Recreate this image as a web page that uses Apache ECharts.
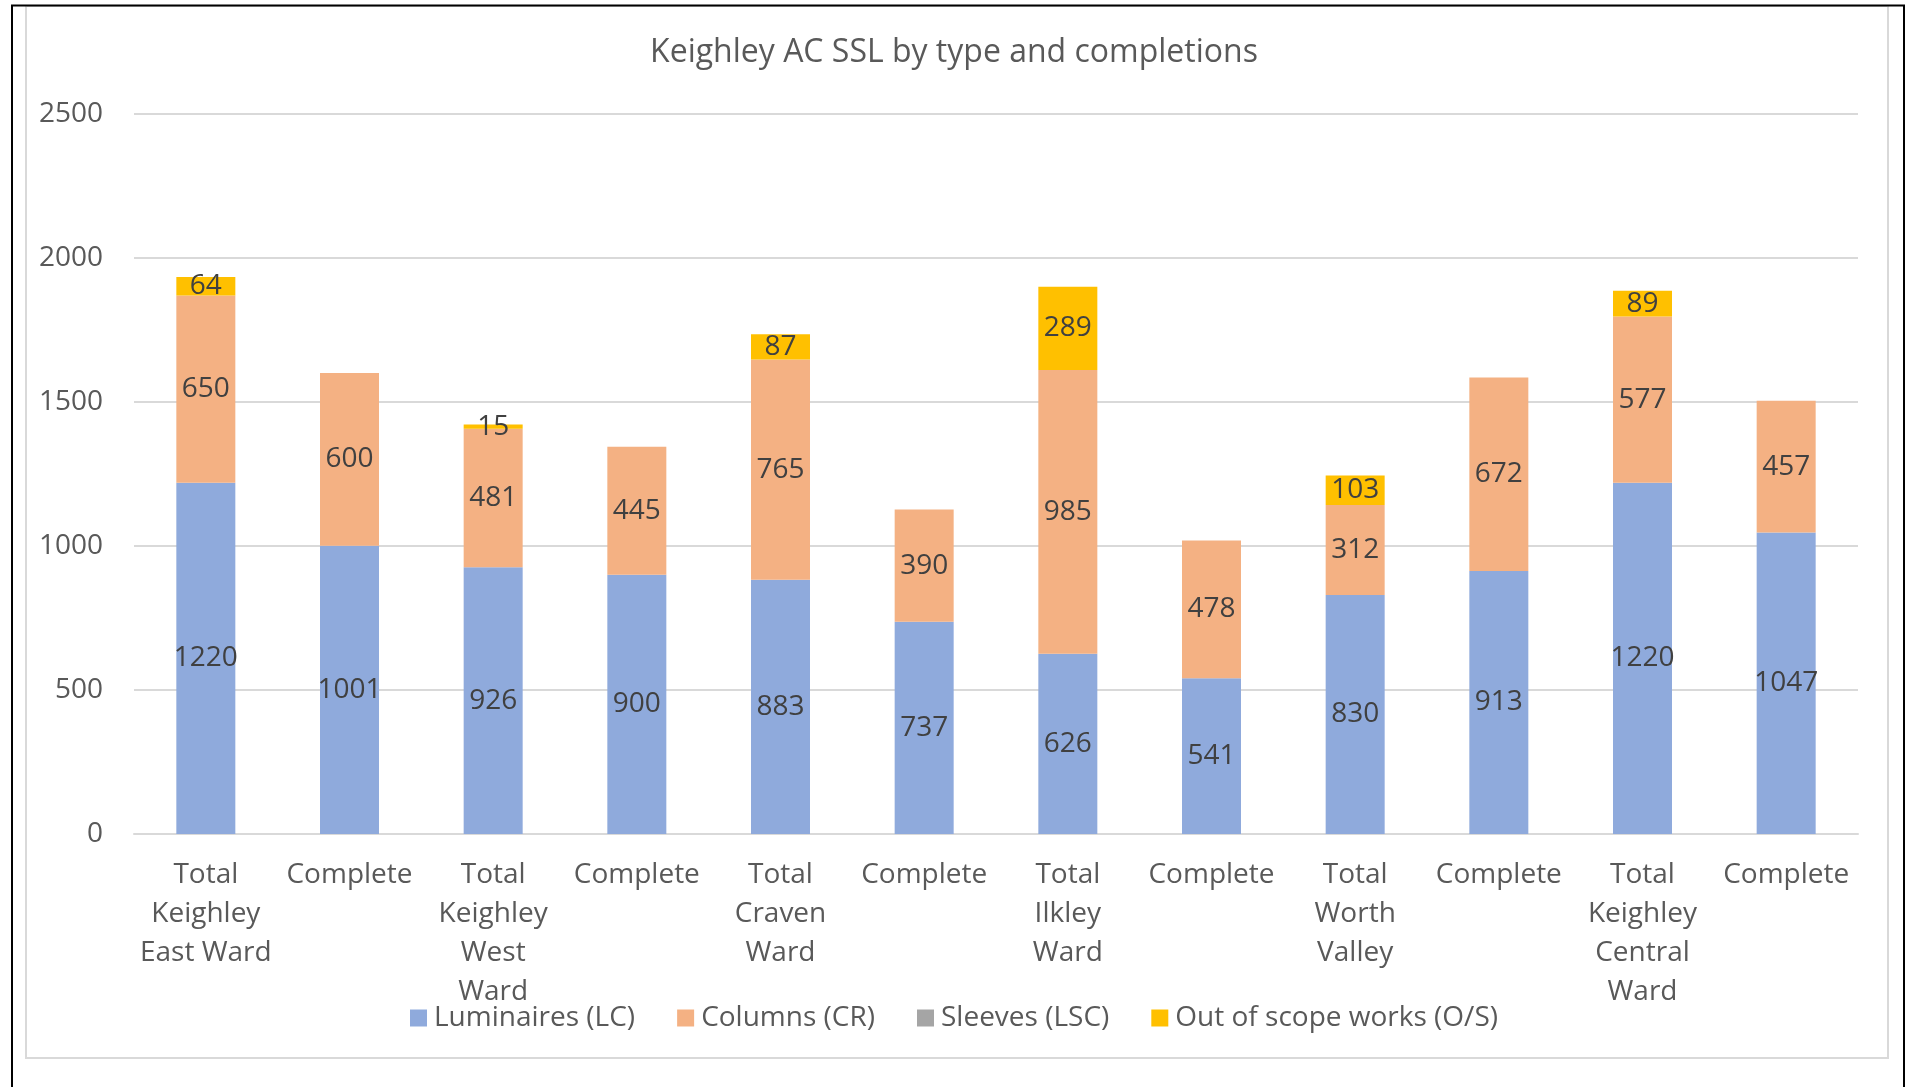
<!DOCTYPE html>
<html>
<head>
<meta charset="utf-8">
<script src="https://cdn.jsdelivr.net/npm/echarts@6/dist/echarts.min.js"></script>
<style>
html,body{margin:0;padding:0;background:#fff;}
#chart{width:1908px;height:1087px;}
</style>
</head>
<body>
<div id="chart"></div>
<script>
const categories = [
  "Total\nKeighley\nEast Ward", "Complete",
  "Total\nKeighley\nWest\nWard", "Complete",
  "Total\nCraven\nWard", "Complete",
  "Total\nIlkley\nWard", "Complete",
  "Total\nWorth\nValley", "Complete",
  "Total\nKeighley\nCentral\nWard", "Complete"
];
const luminaires = [1220, 1001, 926, 900, 883, 737, 626, 541, 830, 913, 1220, 1047];
const columns = [650, 600, 481, 445, 765, 390, 985, 478, 312, 672, 577, 457];
const sleeves = [0, 0, 0, 0, 0, 0, 0, 0, 0, 0, 0, 0];
const outOfScope = [64, null, 15, null, 87, null, 289, null, 103, null, 89, null];
const yTicks = [0, 500, 1000, 1500, 2000, 2500];

const FONT = "Open Sans";
const TXT = "#595959";
const LBL = "#404040";

const chart = echarts.init(document.getElementById('chart'));

function mkSeries(name, data, color) {
  return {
    name: name,
    type: 'bar',
    stack: 'total',
    data: data,
    barWidth: 59,
    itemStyle: { color: color },
    label: {
      show: true,
      position: 'inside',
      color: LBL,
      fontFamily: FONT,
      fontSize: 28,
      formatter: p => (p.value ? String(p.value) : '')
    },
    emphasis: { disabled: true }
  };
}

chart.setOption({
  animation: false,
  backgroundColor: '#fff',
  title: {
    text: 'Keighley AC SSL by type and completions',
    left: 'center',
    top: 32,
    textStyle: { color: TXT, fontFamily: FONT, fontSize: 32, fontWeight: 'normal' }
  },
  legend: {
    bottom: 50,
    left: 'center',
    itemWidth: 17,
    itemHeight: 17,
    itemGap: 42,
    icon: 'rect',
    textStyle: { color: TXT, fontFamily: FONT, fontSize: 28, padding: [0, 0, 0, 2] },
    data: ['Luminaires (LC)', 'Columns (CR)', 'Sleeves (LSC)', 'Out of scope works (O/S)']
  },
  grid: { left: 134, right: 50, top: 114, bottom: 253, containLabel: false },
  xAxis: {
    type: 'category',
    data: categories,
    axisLine: { lineStyle: { color: '#D9D9D9', width: 2 } },
    axisTick: { show: false },
    axisLabel: {
      color: TXT, fontFamily: FONT, fontSize: 28, lineHeight: 39,
      margin: 22, interval: 0
    }
  },
  yAxis: {
    type: 'value',
    min: yTicks[0],
    max: yTicks[yTicks.length - 1],
    interval: 500,
    axisLine: { show: false },
    axisTick: { show: false },
    splitLine: { lineStyle: { color: '#D9D9D9', width: 2 } },
    axisLabel: { color: TXT, fontFamily: FONT, fontSize: 28, margin: 31, formatter: v => String(v) }
  },
  series: [
    mkSeries('Luminaires (LC)', luminaires, '#8FAADC'),
    mkSeries('Columns (CR)', columns, '#F4B183'),
    mkSeries('Sleeves (LSC)', sleeves, '#A5A5A5'),
    mkSeries('Out of scope works (O/S)', outOfScope, '#FFC000')
  ],
  graphic: [
    { type: 'rect', shape: { x: 26, y: 6, width: 1862, height: 1052 }, style: { fill: 'none', stroke: '#D9D9D9', lineWidth: 2 }, silent: true },
    { type: 'rect', shape: { x: 12, y: 5.5, width: 1892, height: 1100 }, style: { fill: 'none', stroke: '#000', lineWidth: 2 }, silent: true }
  ]
});
</script>
</body>
</html>
